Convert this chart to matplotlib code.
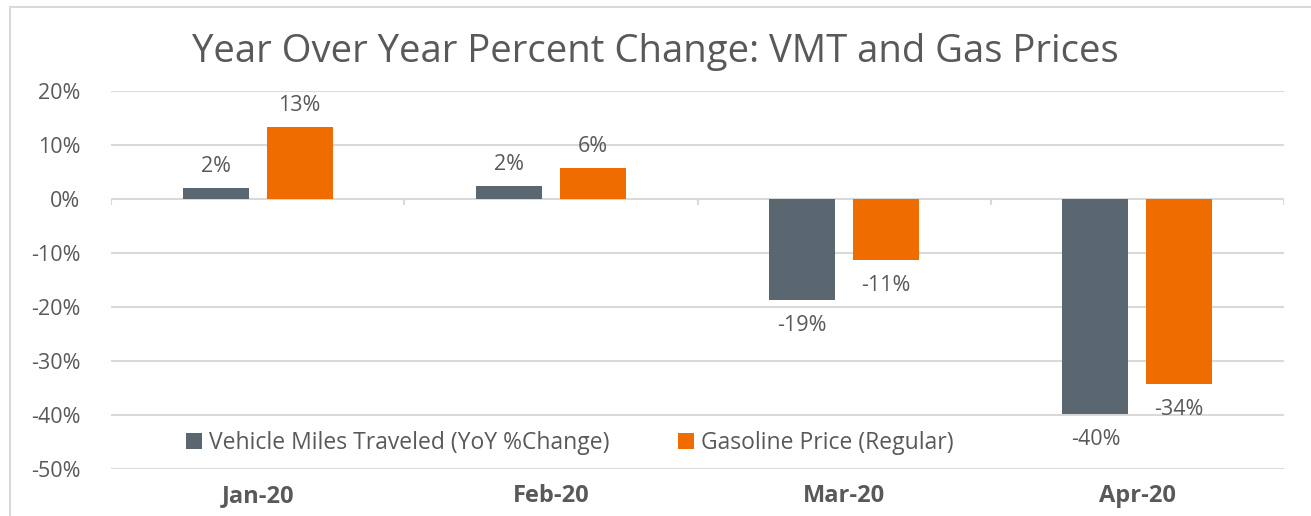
import numpy as np
import matplotlib.pyplot as plt
from matplotlib.patches import Rectangle

categories = ['Jan-20', 'Feb-20', 'Mar-20', 'Apr-20']
vmt = [2.0, 2.4, -18.7, -39.8]
gas = [13.3, 5.7, -11.3, -34.2]
vmt_labels = ['2%', '2%', '-19%', '-40%']
gas_labels = ['13%', '6%', '-11%', '-34%']
yticks = [20, 10, 0, -10, -20, -30, -40, -50]

gray = '#5a6670'
orange = '#ef6c00'
txt = '#595959'
grid = '#d9d9d9'

plt.rcParams['font.family'] = ['Open Sans', 'DejaVu Sans']

fig = plt.figure(figsize=(13.11, 5.16), dpi=100)
ax = fig.add_axes([0.0847, 0.0911, 0.8947, 0.7325])

# light frame around the chart area
fig.patches.append(Rectangle((10/1311, -0.1), 1.2, (516-7)/516 + 0.1,
                             transform=fig.transFigure, fill=False,
                             edgecolor='#d9d9d9', linewidth=1.5))

x = np.arange(len(categories))
w = 0.225
off = 0.143
b1 = ax.bar(x - off, vmt, w, color=gray, label='Vehicle Miles Traveled (YoY %Change)', zorder=3)
b2 = ax.bar(x + off, gas, w, color=orange, label='Gasoline Price (Regular)', zorder=3)

for bars, labs in [(b1, vmt_labels), (b2, gas_labels)]:
    for bar, lab in zip(bars, labs):
        h = bar.get_height()
        cx = bar.get_x() + bar.get_width() / 2
        if h >= 0:
            ax.annotate(lab, (cx, h), xytext=(0, 8), textcoords='offset points',
                        ha='center', va='bottom', fontsize=15.5, color=txt)
        else:
            ax.annotate(lab, (cx, h), xytext=(0, -11), textcoords='offset points',
                        ha='center', va='top', fontsize=15.5, color=txt)

ax.set_xlim(-0.5, len(categories) - 0.5)
ax.set_ylim(-50, 20)
ax.set_yticks(yticks)
ax.set_yticklabels([f'{t}%' for t in yticks])
for t in yticks:
    ax.axhline(t, color=grid, linewidth=1.5, zorder=1)
# category separator ticks on the zero line
ax.vlines(np.arange(len(categories) + 1) - 0.5, -1.1, 0, color=grid, linewidth=1.5, zorder=1)

ax.set_xticks(x)
ax.set_xticklabels(categories, fontweight='bold', fontsize=17, color=txt)
ax.tick_params(axis='x', length=0, pad=11)
ax.tick_params(axis='y', length=0, labelsize=15.5, labelcolor=txt, pad=22)
for s in ax.spines.values():
    s.set_visible(False)

ax.legend(loc='center', bbox_to_anchor=(0.391, 0.069), ncol=2, frameon=False,
          fontsize=16.5, labelcolor=txt, handlelength=0.7, handleheight=0.7,
          handletextpad=0.3, columnspacing=3.0)

fig.text(0.5, 0.9, 'Year Over Year Percent Change: VMT and Gas Prices',
         ha='center', va='center', fontsize=27.5, color=txt)

fig.savefig('out.png', dpi=100)
